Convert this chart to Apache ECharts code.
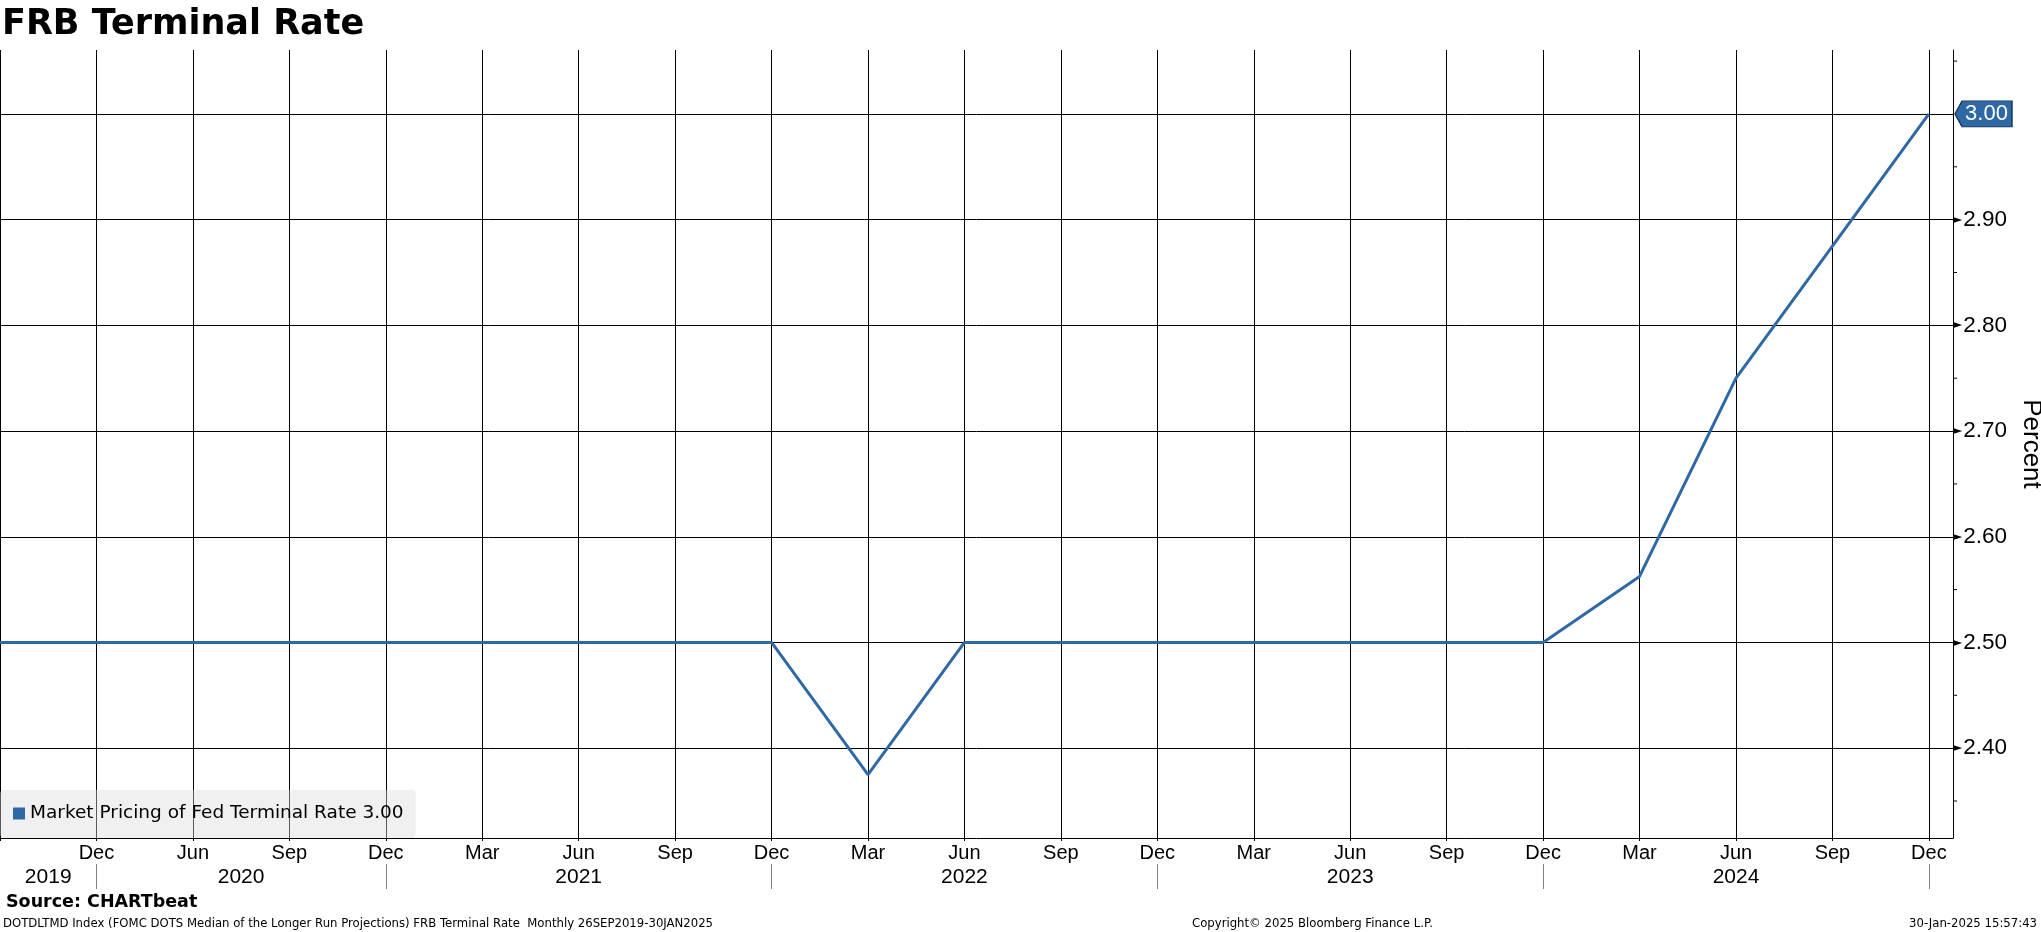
<!DOCTYPE html>
<html><head><meta charset="utf-8">
<script src="https://cdn.jsdelivr.net/npm/echarts@6/dist/echarts.min.js"></script>
<style>html,body{margin:0;padding:0;background:#fff}#c{width:2041px;height:932px}</style>
</head><body><div id="c"></div>
<script>
// Observation labels (FOMC SEP releases; Mar 2020 release skipped)
const months = ['Sep','Dec','Jun','Sep','Dec','Mar','Jun','Sep','Dec','Mar','Jun','Sep','Dec','Mar','Jun','Sep','Dec','Mar','Jun','Sep','Dec'];
const years  = [2019,2019,2020,2020,2020,2021,2021,2021,2021,2022,2022,2022,2022,2023,2023,2023,2023,2024,2024,2024,2024];
const values = [2.5,2.5,2.5,2.5,2.5,2.5,2.5,2.5,2.5,2.375,2.5,2.5,2.5,2.5,2.5,2.5,2.5,2.5625,2.75,2.875,3.0];
const yMajorValues = [2.4,2.5,2.6,2.7,2.8,2.9,3.0];
const yTickValues = [2.35,2.4,2.45,2.5,2.55,2.6,2.65,2.7,2.75,2.8,2.85,2.9,2.95,3.0,3.05];
const seriesName = 'Market Pricing of Fed Terminal Rate';

const blue = '#2e69a5';
const idx = months.map((m, i) => i);
const last = values[values.length - 1];
const xMax = months.length - 1 + 0.25;
const decIdx = idx.filter(i => months[i] === 'Dec');
const yearLabels = decIdx.map(i => String(years[i]));
const yearPos = decIdx.map((d, k) => ((k === 0 ? 0 : decIdx[k - 1]) + d) / 2);
const isMajor = v => yMajorValues.some(m => Math.abs(m - v) < 1e-6);

const chart = echarts.init(document.getElementById('c'), null, {renderer: 'canvas'});
const LIB = 'Liberation Sans', DJV = 'DejaVu Sans';
chart.setOption({
  animation: false,
  backgroundColor: '#fff',
  title: [
    {text: 'FRB Terminal Rate', left: 2, top: 7, padding: 0,
     textStyle: {fontFamily: DJV, fontWeight: 'bold', fontSize: 35, color: '#000'}},
    {text: 'Source: CHARTbeat', left: 6, top: 893.5, padding: 0,
     textStyle: {fontFamily: DJV, fontWeight: 'bold', fontSize: 17.5, color: '#000'}},
    {text: 'DOTDLTMD Index (FOMC DOTS Median of the Longer Run Projections) FRB Terminal Rate  Monthly 26SEP2019-30JAN2025', left: 3, top: 917.5, padding: 0,
     textStyle: {fontFamily: DJV, fontWeight: 'normal', fontSize: 11.7, color: '#000'}},
    {text: 'Copyright\u00a9 2025 Bloomberg Finance L.P.', left: 1192, top: 917.5, padding: 0,
     textStyle: {fontFamily: DJV, fontWeight: 'normal', fontSize: 11.7, color: '#000'}},
    {text: '30-Jan-2025 15:57:43', right: 4, top: 917.5, padding: 0,
     textStyle: {fontFamily: DJV, fontWeight: 'normal', fontSize: 11.7, color: '#000'}}
  ],
  legend: {
    data: [seriesName], left: 0, top: 790, padding: [14, 12, 15, 13],
    backgroundColor: 'rgba(219,219,219,0.41)', borderRadius: 4,
    icon: 'rect', itemWidth: 12, itemHeight: 12, selectedMode: false,
    formatter: n => n + ' ' + last.toFixed(2),
    textStyle: {fontFamily: DJV, fontSize: 18.5, color: '#000'}
  },
  grid: {left: 0, right: 88, top: 50, bottom: 94, containLabel: false, outerBoundsMode: 'none'},
  xAxis: [
    {type: 'value', min: 0, max: xMax, position: 'bottom',
     axisLine: {show: true, onZero: false, lineStyle: {color: '#000', width: 1}},
     axisTick: {show: true, customValues: idx, length: 3, lineStyle: {color: '#000'}},
     axisLabel: {customValues: idx.slice(1), formatter: v => months[Math.round(v)],
                 color: '#000', fontFamily: LIB, fontSize: 20, margin: 5},
     splitLine: {show: true, lineStyle: {color: '#000', width: 1}}},
    {type: 'value', min: 0, max: xMax, position: 'bottom', offset: 26,
     axisLine: {show: false, onZero: false},
     axisTick: {show: true, customValues: decIdx, length: 25, lineStyle: {color: '#808080', width: 1}},
     axisLabel: {customValues: yearPos, formatter: v => yearLabels[yearPos.indexOf(v)],
                 color: '#000', fontFamily: LIB, fontSize: 21, margin: 2.5},
     splitLine: {show: false}}
  ],
  yAxis: [
    {type: 'value', position: 'right', min: 2.315, max: 3.0605,
     axisLine: {show: true, onZero: false, lineStyle: {color: '#000', width: 1}},
     axisTick: {show: false},
     axisLabel: {customValues: yTickValues, margin: 0,
                 formatter: v => Math.abs(v - last) < 1e-6 ? '' :
                   (isMajor(v) ? '{t|\u25BA}{v|' + v.toFixed(2) + '}' : '{m| }'),
                 rich: {t: {fontFamily: DJV, fontSize: 12, color: '#000', padding: [0, 1, 0, 0]},
                        v: {fontFamily: LIB, fontSize: 22.5, color: '#000'},
                        m: {width: 4, height: 1, lineHeight: 1, fontSize: 1, backgroundColor: '#000'}}},
     splitLine: {show: false},
     name: 'Percent', nameLocation: 'middle', nameRotate: -90, nameGap: 58,
     nameTextStyle: {fontFamily: LIB, fontSize: 26, color: '#000'}}
  ],
  series: [{
    type: 'line', name: seriesName, xAxisIndex: 0, yAxisIndex: 0,
    data: values.map((v, i) => [i, v]),
    showSymbol: false, symbol: 'none', z: 5,
    lineStyle: {color: blue, width: 3}, itemStyle: {color: blue},
    markLine: {
      silent: true, symbol: 'none', z: 1, animation: false,
      label: {show: false},
      lineStyle: {color: '#000', width: 1, type: 'solid'},
      emphasis: {disabled: true},
      data: yMajorValues.map(v => ({yAxis: v}))
    },
    markPoint: {
      symbol: 'path://M0,13L7,0L56,0L56,26L7,26Z', symbolSize: [57, 26], symbolOffset: [30.5, 0],
      data: [{coord: [xMax, last]}], silent: true,
      itemStyle: {color: blue, borderColor: '#16365c', borderWidth: 1},
      label: {show: true, position: 'inside', offset: [3, 0], formatter: last.toFixed(2),
              color: '#fff', fontFamily: LIB, fontSize: 22}
    }
  }]
});
</script></body></html>
